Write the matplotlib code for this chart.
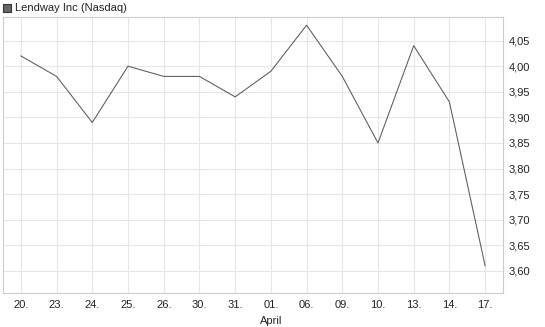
import matplotlib
matplotlib.use("Agg")
import matplotlib.pyplot as plt
from matplotlib.patches import Rectangle
from matplotlib.ticker import FuncFormatter

plt.rcParams['font.family'] = ['Liberation Sans', 'DejaVu Sans']

# data
day_labels = ["20.", "23.", "24.", "25.", "26.", "30.", "31.", "01.", "06.", "09.", "10.", "13.", "14.", "17."]
prices = [4.02, 3.98, 3.89, 4.00, 3.98, 3.98, 3.94, 3.99, 4.08, 3.98, 3.85, 4.04, 3.93, 3.61]
y_ticks = [3.60, 3.65, 3.70, 3.75, 3.80, 3.85, 3.90, 3.95, 4.00, 4.05]
month_label = "April"
month_at = 7

fig = plt.figure(figsize=(5.45, 3.27), dpi=100)
ax = fig.add_axes([3/545, 1 - 293/327, 500/545, 276/327])

x = list(range(len(prices)))
ax.plot(x, prices, color="#5a5a5a", lw=0.75)

ax.set_xlim(-0.5, len(prices) - 0.5)
ax.set_ylim(3.557, 4.096)
ax.set_xticks(x)
ax.set_xticklabels(day_labels)
ax.set_yticks(y_ticks)
ax.yaxis.set_major_formatter(FuncFormatter(lambda v, p: f"{v:.2f}".replace(".", ",")))
ax.yaxis.tick_right()
ax.tick_params(length=0, labelsize=8, colors="#222222", pad=4)
ax.tick_params(axis="x", pad=5)
ax.grid(True, color="#e6e6e6", lw=0.8)
ax.set_axisbelow(True)
for s in ax.spines.values():
    s.set_color("#cccccc")
    s.set_linewidth(0.8)

ax.text(month_at, -0.085, month_label, transform=ax.get_xaxis_transform(),
        ha="center", va="top", fontsize=8, color="#222222")

# legend box
fig.patches.append(Rectangle((3/545, 1 - 12/327), 8/545, 8/327, transform=fig.transFigure,
                             facecolor="#666666", edgecolor="#333333", lw=0.8))
fig.text(15/545, 1 - 8/327, "Lendway Inc (Nasdaq)", fontsize=8, va="center", color="#222222")

fig.savefig("out.png", dpi=100)
